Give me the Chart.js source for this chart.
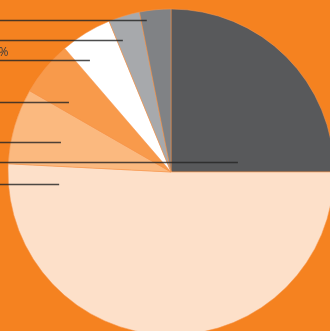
<!DOCTYPE html>
<html>
<head>
<meta charset="utf-8">
<script src="https://cdn.jsdelivr.net/npm/chart.js@4/dist/chart.umd.min.js"></script>
<style>
  html, body { margin: 0; padding: 0; width: 330px; height: 331px; overflow: hidden; background: #f58220; }
  #wrap { position: absolute; left: -270px; top: 0; width: 620px; height: 400px; }
</style>
</head>
<body>
<div id="wrap"><canvas id="c" width="620" height="400"></canvas></div>
<script>
// ---- data ----
const categories = ['Category A', 'Category B', 'Category C', 'Category D', 'Category E', 'Category F', 'Category G'];
const shares = [25, 50.8, 7.5, 5.4, 5.1, 3.1, 3.1];
const sliceColors = ['#58595b', '#fde0c9', '#fbb97f', '#f89a4b', '#ffffff', '#a7a9ac', '#808285'];
// leader line anchor inside each slice: fraction of slice angle, fraction of radius
const leaderAnchor = [[0.906, 0.415], [0.951, 0.69], [0.46, 0.70], [0.24, 0.76], [0.265, 0.85], [0.2, 0.86], [0.19, 0.945]];
// right edge of each (mostly off-screen) label, canvas x
const labelRight = [240, 240, 240, 240, 278.5, 240, 240];

const leaderPlugin = {
  id: 'leaders',
  afterDatasetsDraw(chart) {
    const ctx = chart.ctx;
    const meta = chart.getDatasetMeta(0);
    ctx.save();
    meta.data.forEach((arc, i) => {
      const p = arc.getProps(['x', 'y', 'startAngle', 'endAngle', 'outerRadius'], true);
      const [f, rf] = leaderAnchor[i];
      const a = p.startAngle + f * (p.endAngle - p.startAngle);
      const ex = p.x + Math.cos(a) * p.outerRadius * rf;
      const ey = p.y + Math.sin(a) * p.outerRadius * rf;
      ctx.strokeStyle = 'rgba(38,38,38,0.82)';
      ctx.lineWidth = 1.6;
      ctx.beginPath();
      ctx.moveTo(0, Math.round(ey) + 0.5);
      ctx.lineTo(ex, Math.round(ey) + 0.5);
      ctx.stroke();
      ctx.fillStyle = '#3c3c3c';
      ctx.font = '500 12px "Open Sans", "Liberation Sans", Arial, sans-serif';
      ctx.textAlign = 'right';
      ctx.textBaseline = 'alphabetic';
      ctx.fillText(Math.round(shares[i]) + '%', labelRight[i], Math.round(ey) - 4);
    });
    ctx.restore();
  }
};

new Chart(document.getElementById('c'), {
  type: 'pie',
  data: {
    labels: categories,
    datasets: [{
      data: shares,
      backgroundColor: sliceColors,
      borderColor: 'rgba(245,150,80,0.9)',
      borderWidth: 0.6,
      radius: 163
    }]
  },
  options: {
    responsive: false,
    animation: false,
    layout: { padding: { left: 278, right: 16, top: 9, bottom: 65 } },
    plugins: { legend: { display: false }, tooltip: { enabled: false } }
  },
  plugins: [leaderPlugin]
});
</script>
</body>
</html>
